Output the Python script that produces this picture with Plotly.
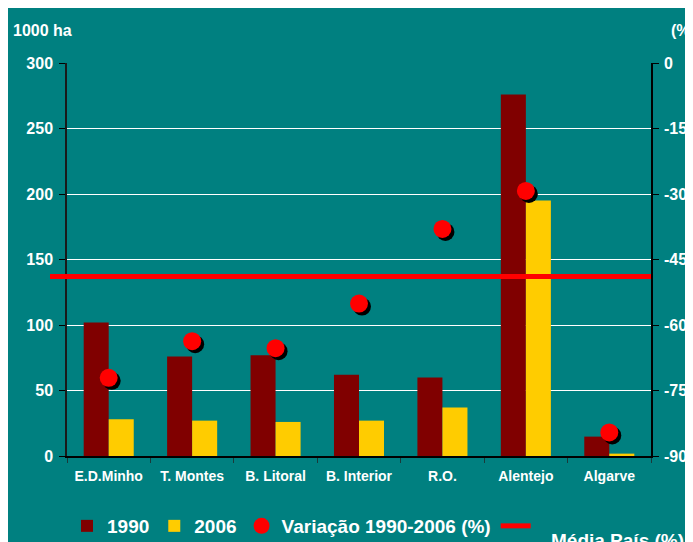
import plotly.graph_objects as go

# dados (1000 ha) e variacao (%)
regioes = ["E.D.Minho", "T. Montes", "B. Litoral", "B. Interior", "R.O.", "Alentejo", "Algarve"]
area_1990 = [102, 76, 77, 62, 60, 276, 14.8]
area_2006 = [28, 27, 26, 27, 37, 195, 1.8]
variacao = [-72.1, -63.7, -65.3, -55.1, -38.0, -29.3, -84.6]
media_pais = -48.9

left_ticks = [0, 50, 100, 150, 200, 250, 300]
right_ticks = [0, -15, -30, -45, -60, -75, -90]
right_labels = ["0", "-15", "-30", "-45", "-60", "-75", "-90"]

TEAL = "#008080"
FONT = "Liberation Sans, Arial, sans-serif"
W, H = 693, 542
L, R, T, B = 59, 47, 55, 91
pw, ph = W - L - R, H - T - B   # 587 x 396
sh = 3  # deslocamento da sombra (px)

fig = go.Figure()

fig.add_trace(go.Bar(x=regioes, y=area_1990, name="1990", marker_color="#800000",
                     marker_line_width=0))
fig.add_trace(go.Bar(x=regioes, y=area_2006, name="2006", marker_color="#FFCC00",
                     marker_line_width=0))

# sombra dos pontos num eixo deslocado, pontos por cima
fig.add_trace(go.Scatter(x=regioes, y=variacao, mode="markers", xaxis="x3", yaxis="y3",
                         marker=dict(color="black", size=18), showlegend=False,
                         hoverinfo="skip", cliponaxis=False))
fig.add_trace(go.Scatter(x=regioes, y=variacao, mode="markers", xaxis="x4", yaxis="y4",
                         name="Variação 1990-2006 (%)",
                         marker=dict(color="#FF0000", size=18), cliponaxis=False))

xdom = [0, 1 - sh / pw]
ydom = [sh / ph, 1]

axis_font = dict(family=FONT, size=16, color="white", weight="bold")
hidden_x = dict(range=[-0.5, 6.5], visible=False, categoryorder="array",
                categoryarray=regioes)

fig.update_layout(
    width=W, height=H,
    margin=dict(l=L, r=R, t=T, b=B),
    paper_bgcolor=TEAL, plot_bgcolor="rgba(0,0,0,0)",
    barmode="group", bargap=0.4, bargroupgap=0,
    font=dict(family=FONT, color="white"),
    xaxis=dict(domain=xdom, showline=True, linecolor="black", linewidth=1.5,
               ticks="outside", ticklen=5, tickcolor="#1a3a3a", tickson="boundaries",
               tickfont=dict(family=FONT, size=14, color="white", weight="bold"),
               ticklabelstandoff=6, showgrid=False, range=[-0.5, 6.5]),
    yaxis=dict(domain=ydom, range=[0, 300], tickvals=left_ticks, showline=True,
               linecolor="#1a1a1a", linewidth=1.5, ticks="outside", ticklen=6,
               tickcolor="black", tickfont=axis_font, ticklabelstandoff=3,
               showgrid=True, gridcolor="white", gridwidth=1, zeroline=False),
    yaxis2=dict(overlaying="y", side="right", range=[-90, 0], tickvals=right_ticks,
                ticktext=right_labels,
                showline=True, linecolor="black", linewidth=1.5, ticks="outside",
                ticklen=6, tickcolor="black", tickfont=axis_font, showgrid=False,
                zeroline=False, ticklabelstandoff=2),
    xaxis3=dict(domain=[sh / pw, 1], anchor="y3", **hidden_x),
    yaxis3=dict(domain=[0, 1 - sh / ph], anchor="x3", range=[-90, 0], visible=False),
    xaxis4=dict(domain=xdom, anchor="y4", **hidden_x),
    yaxis4=dict(domain=ydom, anchor="x4", range=[-90, 0], visible=False),
    legend=dict(orientation="h", x=0.0, xanchor="left", yref="container",
                y=(H - 518) / H, yanchor="middle", bgcolor="rgba(0,0,0,0)",
                font=dict(family=FONT, size=19, color="white", weight="bold"),
                itemclick=False),
    showlegend=True,
)

# linha da média do país
fig.add_shape(type="line", xref="x domain", yref="y2", x0=-17 / (pw - sh), x1=1,
              y0=media_pais, y1=media_pais, line=dict(color="#FF0000", width=5),
              layer="above", showlegend=True, name=" ")

fig.add_annotation(text="Média País (%)", xref="paper", yref="paper",
                   x=(541 - L) / pw, y=(ph + T - 520) / ph,
                   xanchor="left", yanchor="top", showarrow=False,
                   font=dict(family=FONT, size=19, color="white", weight="bold"))
fig.add_annotation(text="1000 ha", xref="paper", yref="paper",
                   x=(3 - L) / pw, y=(ph + T - 22) / ph, xanchor="left",
                   yanchor="middle", showarrow=False,
                   font=dict(family=FONT, size=16, color="white", weight="bold"))
fig.add_annotation(text="(%)", xref="paper", yref="paper",
                   x=(661 - L) / pw, y=(ph + T - 22) / ph, xanchor="left",
                   yanchor="middle", showarrow=False,
                   font=dict(family=FONT, size=16, color="white", weight="bold"))

fig.write_html("out.html")
